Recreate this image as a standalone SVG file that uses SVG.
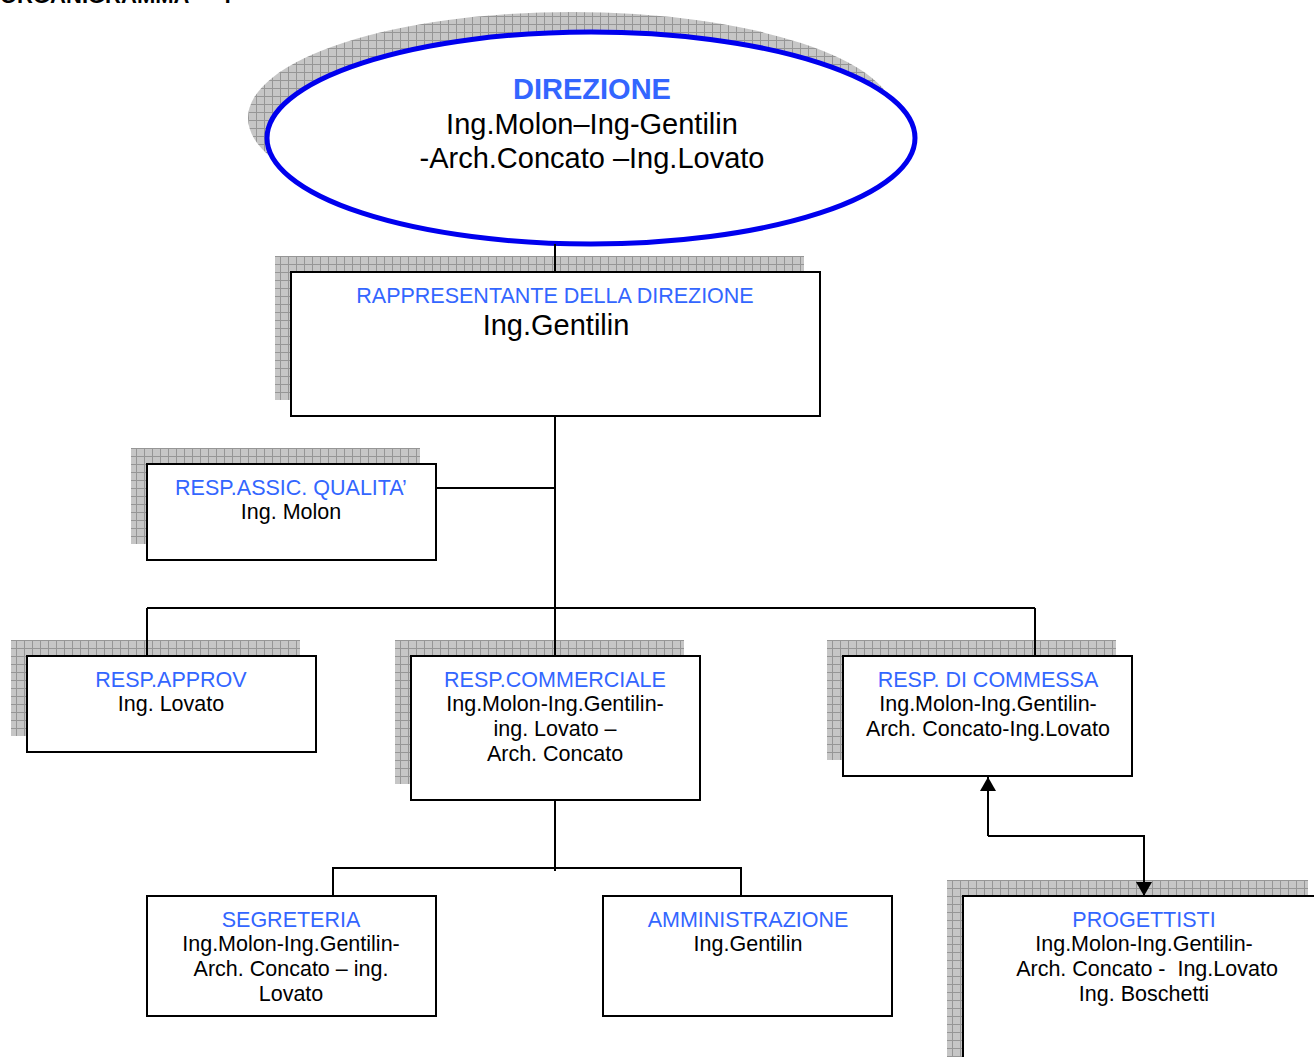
<svg xmlns="http://www.w3.org/2000/svg" width="1314" height="1057" viewBox="0 0 1314 1057">
<style>
.box{fill:#fff;stroke:#000;stroke-width:2}
.shadow{fill:url(#grid)}
.t{font-family:"Liberation Sans",Arial,sans-serif;text-anchor:middle}
.title{fill:#3366ff;font-size:21.5px}
.name{fill:#000;font-size:21.5px}
.conn{fill:none;stroke:#000;stroke-width:2}
</style>
<defs>
<pattern id="grid" width="8" height="8" patternUnits="userSpaceOnUse">
<rect width="8" height="8" fill="#c6c6c6"/>
<path d="M0 0.5H8M0.5 0V8" stroke="#969696" stroke-width="1"/>
</pattern>
<marker id="ah" viewBox="0 0 14 16" refX="14" refY="8" markerWidth="14" markerHeight="16" markerUnits="userSpaceOnUse" orient="auto">
<path d="M0 0L14 8L0 16Z" fill="#000"/>
</marker>
</defs>
<rect width="1314" height="1057" fill="#fff"/>
<text x="0" y="3" font-family="Liberation Sans,Arial,sans-serif" font-weight="bold" font-size="22">ORGANIGRAMMA</text>
<text x="224" y="3" font-family="Liberation Sans,Arial,sans-serif" font-weight="bold" font-size="22">:</text>

<g id="direzione">
<ellipse class="shadow" cx="572" cy="118" rx="324" ry="106"/>
<ellipse cx="591" cy="138" rx="324" ry="106" fill="#fff" stroke="#0000ee" stroke-width="5"/>
<text class="t" x="592" y="99" font-size="29" font-weight="bold" fill="#3366ff">DIREZIONE</text>
<text class="t" x="592" y="134" font-size="29">Ing.Molon–Ing-Gentilin</text>
<text class="t" x="592" y="168" font-size="29">-Arch.Concato –Ing.Lovato</text>
</g>

<g id="rappresentante">
<rect class="shadow" x="275" y="256" width="529" height="144"/>
<rect class="box" x="291" y="272" width="529" height="144"/>
<text class="t title" x="555" y="303">RAPPRESENTANTE DELLA DIREZIONE</text>
<text class="t" x="556" y="335" font-size="29">Ing.Gentilin</text>
</g>

<g id="qualita">
<rect class="shadow" x="131" y="448" width="289" height="96"/>
<rect class="box" x="147" y="464" width="289" height="96"/>
<text class="t title" x="291" y="495">RESP.ASSIC. QUALITA’</text>
<text class="t name" x="291" y="519">Ing. Molon</text>
</g>

<g id="approv">
<rect class="shadow" x="11" y="640" width="289" height="96"/>
<rect class="box" x="27" y="656" width="289" height="96"/>
<text class="t title" x="171" y="687">RESP.APPROV</text>
<text class="t name" x="171" y="711">Ing. Lovato</text>
</g>

<g id="commerciale">
<rect class="shadow" x="395" y="640" width="289" height="144"/>
<rect class="box" x="411" y="656" width="289" height="144"/>
<text class="t title" x="555" y="687">RESP.COMMERCIALE</text>
<text class="t name" x="555" y="711">Ing.Molon-Ing.Gentilin-</text>
<text class="t name" x="555" y="736">ing. Lovato –</text>
<text class="t name" x="555" y="761">Arch. Concato</text>
</g>

<g id="commessa">
<rect class="shadow" x="827" y="640" width="289" height="120"/>
<rect class="box" x="843" y="656" width="289" height="120"/>
<text class="t title" x="988" y="687">RESP. DI COMMESSA</text>
<text class="t name" x="988" y="711">Ing.Molon-Ing.Gentilin-</text>
<text class="t name" x="988" y="736">Arch. Concato-Ing.Lovato</text>
</g>

<g id="segreteria">
<rect class="box" x="147" y="896" width="289" height="120"/>
<text class="t title" x="291" y="927">SEGRETERIA</text>
<text class="t name" x="291" y="951">Ing.Molon-Ing.Gentilin-</text>
<text class="t name" x="291" y="976">Arch. Concato – ing.</text>
<text class="t name" x="291" y="1001">Lovato</text>
</g>

<g id="amministrazione">
<rect class="box" x="603" y="896" width="289" height="120"/>
<text class="t title" x="748" y="927">AMMINISTRAZIONE</text>
<text class="t name" x="748" y="951">Ing.Gentilin</text>
</g>

<g id="progettisti">
<rect class="shadow" x="947" y="880" width="361" height="190"/>
<rect class="box" x="963" y="896" width="370" height="180"/>
<text class="t title" x="1144" y="927">PROGETTISTI</text>
<text class="t name" x="1144" y="951">Ing.Molon-Ing.Gentilin-</text>
<text class="t name" x="1147" y="976" xml:space="preserve">Arch. Concato -  Ing.Lovato</text>
<text class="t name" x="1144" y="1001">Ing. Boschetti</text>
</g>

<g id="connectors">
<path class="conn" d="M555 244V272"/>
<path class="conn" d="M555 416V608"/>
<path class="conn" d="M436 488H555"/>
<path class="conn" d="M147 608H1035"/>
<path class="conn" d="M147 608V656M555 608V656M1035 608V656"/>
<path class="conn" d="M555 800V871"/>
<path class="conn" d="M333 896V868H741V896"/>
<path class="conn" d="M988 836V777" marker-end="url(#ah)"/>
<path class="conn" d="M988 836H1144V896" marker-end="url(#ah)"/>
</g>
</svg>
